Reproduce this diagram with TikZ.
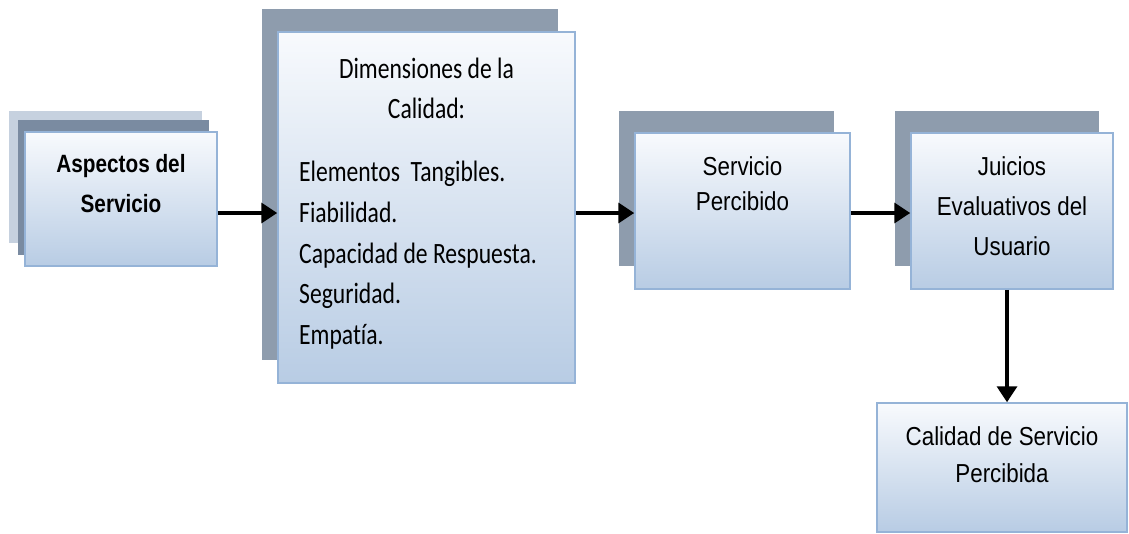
\documentclass[tikz,border=0pt]{standalone}
\usepackage{fontspec}
\setmainfont{Liberation Sans}
\newfontfamily\boxfont[FakeStretch=0.86]{Liberation Sans}
\newfontfamily\boldboxfont[FakeStretch=0.83]{Liberation Sans}
\newfontfamily\listfont[FakeStretch=0.8, Ligatures=NoCommon]{Carlito}
\usetikzlibrary{arrows.meta}
\definecolor{boxtop}{HTML}{F8FAFD}
\definecolor{boxbottom}{HTML}{B8CCE4}
\definecolor{boxline}{HTML}{95B3D7}
\definecolor{shadowgray}{HTML}{8E9CAD}
\definecolor{shadowdark}{HTML}{7A8BA1}
\definecolor{shadowlight}{HTML}{C6D1DF}
\begin{document}
\begin{tikzpicture}[%
  x = 1pt, y = -1pt,
  box/.style = {rectangle, draw = boxline, line width = 1.5pt, top color = boxtop,
    bottom color = boxbottom, inner sep = 0pt},
  backbox/.style = {rectangle, fill = #1, inner sep = 0pt},
  boxtext/.style = {inner sep = 0pt, align = center, anchor = north},
  arr/.style = {-{Triangle[length = 16pt, width = 20pt]}, line width = 3.5pt}]
  \useasboundingbox (0, 0) rectangle (1129, 533);

  % shadows
  \node[backbox = shadowlight, minimum width = 193pt, minimum height = 132pt] (aspback) at (105.5, 177) {};
  \node[backbox = shadowdark, minimum width = 191pt, minimum height = 135pt] (aspmid) at (113.5, 187.5) {};
  \node[backbox = shadowgray, minimum width = 296pt, minimum height = 351pt] (dimback) at (410, 184.5) {};
  \node[backbox = shadowgray, minimum width = 215pt, minimum height = 155pt] (perback) at (726.5, 188.5) {};
  \node[backbox = shadowgray, minimum width = 204pt, minimum height = 155pt] (juiback) at (997, 188.5) {};

  % boxes
  \node[box, minimum width = 192pt, minimum height = 134pt] (asp) at (121, 199) {};
  \node[box, minimum width = 297pt, minimum height = 351pt] (dim) at (426.5, 207.5) {};
  \node[box, minimum width = 215pt, minimum height = 156pt] (per) at (742.5, 211) {};
  \node[box, minimum width = 202pt, minimum height = 156pt] (jui) at (1012, 211) {};
  \node[box, minimum width = 250pt, minimum height = 129pt] (cal) at (1002, 467.5) {};

  % texts
  \node[boxtext, font = \boldboxfont\bfseries\fontsize{25}{40}\selectfont] (asptext) at (121, 154) {Aspectos del\\Servicio};
  \node[boxtext, font = \listfont\fontsize{29.5}{40}\selectfont] (dimtitle) at (426.5, 58) {Dimensiones de la\\Calidad:};
  \node[inner sep = 0pt, align = left, anchor = north west, font = \listfont\fontsize{29.5}{40.7}\selectfont]
    (dimlist) at (299, 161) {Elementos\ \ Tangibles.\\Fiabilidad.\\Capacidad de Respuesta.\\Seguridad.\\Empatía.};
  \node[boxtext, font = \boxfont\fontsize{26}{35}\selectfont] (pertext) at (742.5, 156) {Servicio\\Percibido};
  \node[boxtext, font = \boxfont\fontsize{26}{40}\selectfont] (juitext) at (1012, 156) {Juicios\\Evaluativos del\\Usuario};
  \node[boxtext, font = \boxfont\fontsize{26}{37}\selectfont] (caltext) at (1002, 426) {Calidad de Servicio\\Percibida};

  % connectors
  \coordinate (row) at (0, 213);
  \coordinate (col) at (1007, 0);
  \draw[arr] (asp.east |- row) -- (dim.west |- row);
  \draw[arr] (dim.east |- row) -- (per.west |- row);
  \draw[arr] (per.east |- row) -- (jui.west |- row);
  \draw[arr] (jui.south -| col) -- (cal.north -| col);
\end{tikzpicture}
\end{document}
